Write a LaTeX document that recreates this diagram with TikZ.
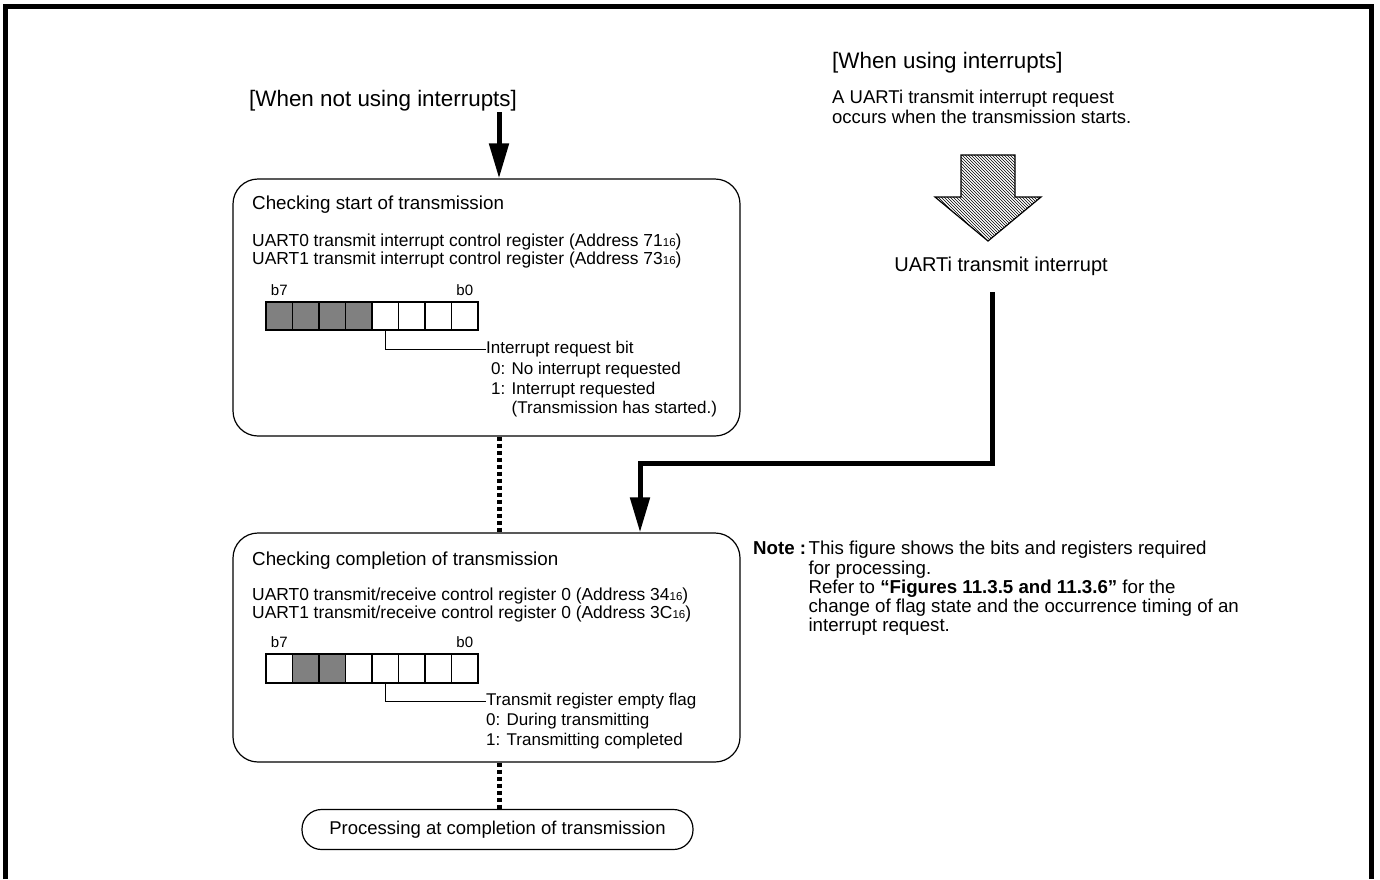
\documentclass[tikz,border=0pt]{standalone}
\usepackage{fontspec}
\setmainfont{Liberation Sans}
\usetikzlibrary{arrows.meta,positioning,patterns}

\newcommand{\adrsub}[1]{{\fontsize{11.5}{11.5}\selectfont #1}}

\begin{document}
\begin{tikzpicture}[
    x=1pt, y=-1pt,
    frame/.style={line width=5pt, line join=miter},
    regbox/.style={draw, line width=1.2pt, rounded corners=25pt, minimum width=507pt, inner sep=0pt},
    endbox/.style={draw, line width=1.2pt, rounded corners=19.5pt, minimum width=391pt, minimum height=40pt, font=\fontsize{18.5}{20}\selectfont},
    title/.style={font=\fontsize{22.4}{24}\selectfont, anchor=west, inner sep=0pt},
    head/.style={font=\fontsize{18.8}{20}\selectfont, anchor=west, inner sep=0pt},
    item/.style={font=\fontsize{17}{19}\selectfont, anchor=west, inner sep=0pt},
    body/.style={font=\fontsize{17.4}{18}\selectfont, align=left, anchor=north west, inner sep=0pt},
    list/.style={font=\fontsize{17}{19.5}\selectfont, align=left, anchor=north west, inner sep=0pt},
    notetext/.style={font=\fontsize{18.7}{19.3}\selectfont, align=left, anchor=north west, inner sep=0pt},
    bitbox/.style={draw, line width=1.2pt, minimum width=26.5pt, minimum height=28pt, inner sep=0pt},
    bitlabel/.style={font=\fontsize{15}{15}\selectfont, inner sep=0pt},
    thickarrow/.style={line width=5pt, -{Triangle[length=35pt,width=19pt]}},
    dotline/.style={line width=5pt, dash pattern=on 4pt off 3pt},
    pointer/.style={line width=1pt}
]
\useasboundingbox (0,0) rectangle (1380,879);

% Rahmen (unten offen)
\draw[frame] (5,879) -- (5,6) -- (1371.5,6) -- (1371.5,879);

% Ohne Interrupts
\node[title] (nointr) at (249,101) {[When not using interrupts]};
\coordinate (start) at (499,112);

% Kasten 1: Start der Uebertragung
\node[regbox, minimum height=257pt] (box1) at (486.5,307.5) {};
\node[head] (head1) at (252,205) {Checking start of transmission};
\node[body] (reg1) at (252,234) {UART0 transmit interrupt control register (Address 71\adrsub{16})\\
    UART1 transmit interrupt control register (Address 73\adrsub{16})};
\foreach \i/\c in {0/black!50,1/black!50,2/black!50,3/black!50,4/white,5/white,6/white,7/white}
    \node[bitbox, fill=\c] (bitA\i) at (279.25+26.5*\i,316) {};
\node[bitlabel, above=6pt of bitA0] (b7A) {b7};
\node[bitlabel, above=6pt of bitA7] (b0A) {b0};
\node[item] (irqbit) at (486,349) {Interrupt request bit};
\node[list] (irqvals) at (491,362) {0: No interrupt requested\\
    1: Interrupt requested\\
    \phantom{1: }(Transmission has started.)};
\draw[pointer] (bitA4.south) |- (irqbit.west);

% Kasten 2: Ende der Uebertragung
\node[regbox, minimum height=229pt] (box2) at (486.5,647.5) {};
\node[head] (head2) at (252,561) {Checking completion of transmission};
\node[body] (reg2) at (252,588) {UART0 transmit/receive control register 0 (Address 34\adrsub{16})\\
    UART1 transmit/receive control register 0 (Address 3C\adrsub{16})};
\foreach \i/\c in {0/white,1/black!50,2/black!50,3/white,4/white,5/white,6/white,7/white}
    \node[bitbox, minimum height=29pt, fill=\c] (bitB\i) at (279.25+26.5*\i,668.5) {};
\node[bitlabel, above=6pt of bitB0] (b7B) {b7};
\node[bitlabel, above=6pt of bitB7] (b0B) {b0};
\node[item] (txflag) at (486,701) {Transmit register empty flag};
\node[list] (txvals) at (486,713) {0: During transmitting\\
    1: Transmitting completed};
\draw[pointer] (bitB4.south) |- (txflag.west);

% Abschluss
\node[endbox] (done) at (497.5,829.5) {Processing at completion of transmission};

% Mit Interrupts
\node[title] (intr) at (832,63) {[When using interrupts]};
\node[notetext, font=\fontsize{18.5}{20}\selectfont] (intrnote) at (832,90) {A UARTi transmit interrupt request\\
    occurs when the transmission starts.};
\draw[line width=1.2pt, pattern=north west lines]
    (961,155) -- (1015,155) -- (1015,197) -- (1041,197) -- (988,241) -- (935,197) -- (961,197) -- cycle;
\node[font=\fontsize{20}{22}\selectfont, inner sep=0pt] (uarti) at (1001,266) {UARTi transmit interrupt};
\coordinate (intsrc) at (992,292);
\coordinate (turn) at (640,463);

% Hinweis
\node[notetext, font=\fontsize{18.7}{19.3}\selectfont\bfseries] (notelabel) at (753,541) {Note :};
\node[notetext] (notebody) at ([xshift=2pt]notelabel.north east) {This figure shows the bits and registers required\\
    for processing.\\
    Refer to \textbf{“Figures 11.3.5 and 11.3.6”} for the\\
    change of flag state and the occurrence timing of an\\
    interrupt request.};

% Verbindungen
\draw[thickarrow] (start) -- (start |- box1.north);
\draw[dotline] (start |- box1.south) -- (start |- box2.north);
\draw[dotline] (start |- box2.south) -- (start |- done.north);
\draw[thickarrow] (intsrc) |- (turn) -- (turn |- box2.north);

\end{tikzpicture}
\end{document}
